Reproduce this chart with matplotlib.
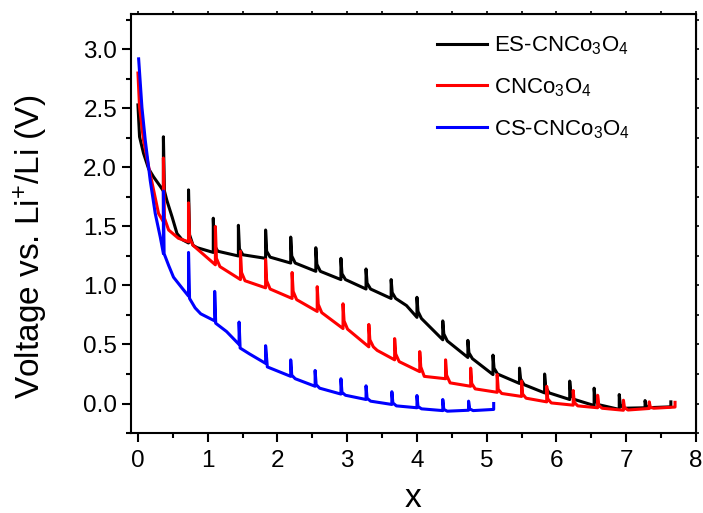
import matplotlib
matplotlib.use("Agg")
import matplotlib.pyplot as plt
from matplotlib.ticker import MultipleLocator, FormatStrFormatter

plt.rcParams["font.family"] = ["Liberation Sans", "DejaVu Sans"]
plt.rcParams["mathtext.fontset"] = "custom"
plt.rcParams["mathtext.rm"] = "Liberation Sans"
plt.rcParams["mathtext.it"] = "Liberation Sans:italic"

# ES-CNCo3O4 (black)
es_x = [0.0, 0.023, 0.08, 0.152, 0.224, 0.32, 0.365, 0.365, 0.38, 0.415, 0.49, 0.56, 0.63,
        0.725, 0.725, 0.74, 0.79, 0.85, 1.08, 1.08, 1.095, 1.145, 1.44, 1.44, 1.455, 1.505,
        1.83, 1.83, 1.845, 1.895, 2.19, 2.19, 2.205, 2.255, 2.55, 2.55, 2.565, 2.615,
        2.91, 2.91, 2.925, 2.975, 3.27, 3.27, 3.285, 3.335, 3.63, 3.63, 3.645, 3.695, 3.85,
        4.0, 4.0, 4.015, 4.065, 4.37, 4.37, 4.385, 4.435, 4.73, 4.73, 4.745, 4.795,
        5.09, 5.09, 5.105, 5.155, 5.47, 5.47, 5.485, 5.535, 5.83, 5.83, 5.845, 5.895,
        6.19, 6.19, 6.205, 6.255, 6.54, 6.54, 6.555, 6.605, 6.90, 6.90, 6.915, 6.965,
        7.27, 7.27, 7.285, 7.335, 7.64, 7.64]
es_v = [2.53, 2.26, 2.12, 1.99, 1.92, 1.84, 1.80, 2.26, 1.80, 1.72, 1.58, 1.44, 1.39,
        1.36, 1.81, 1.43, 1.34, 1.32, 1.28, 1.57, 1.34, 1.29, 1.25, 1.51, 1.31, 1.26,
        1.23, 1.47, 1.29, 1.24, 1.19, 1.41, 1.25, 1.19, 1.12, 1.32, 1.18, 1.12,
        1.05, 1.23, 1.10, 1.05, 0.97, 1.14, 1.02, 0.97, 0.89, 1.05, 0.94, 0.89, 0.83,
        0.73, 0.90, 0.78, 0.72, 0.54, 0.70, 0.59, 0.53, 0.39, 0.535, 0.43, 0.38,
        0.245, 0.41, 0.30, 0.25, 0.17, 0.30, 0.21, 0.16, 0.09, 0.25, 0.14, 0.09,
        0.034, 0.19, 0.08, 0.035, -0.017, 0.13, 0.03, -0.01, -0.05, 0.076, -0.01, -0.04,
        -0.036, 0.025, -0.02, -0.035, -0.028, 0.014]

# CNCo3O4 (red)
cn_x = [0.0, 0.023, 0.08, 0.152, 0.224, 0.295, 0.365, 0.365, 0.38, 0.44, 0.58,
        0.725, 0.725, 0.74, 0.79, 1.11, 1.11, 1.125, 1.175, 1.47, 1.47, 1.485, 1.535,
        1.83, 1.83, 1.845, 1.895, 2.21, 2.21, 2.225, 2.275, 2.57, 2.57, 2.585, 2.635,
        2.94, 2.94, 2.955, 3.005, 3.31, 3.31, 3.325, 3.375, 3.43, 3.68, 3.68, 3.695, 3.745,
        4.04, 4.04, 4.055, 4.105, 4.41, 4.41, 4.425, 4.475, 4.77, 4.77, 4.785, 4.835,
        5.15, 5.15, 5.165, 5.215, 5.50, 5.50, 5.515, 5.565, 5.86, 5.86, 5.875, 5.925,
        6.24, 6.24, 6.255, 6.305, 6.59, 6.59, 6.605, 6.655, 6.96, 6.96, 6.975, 7.025,
        7.33, 7.33, 7.345, 7.395, 7.70, 7.70]
cn_v = [2.80, 2.51, 2.23, 2.01, 1.81, 1.61, 1.54, 2.08, 1.57, 1.47, 1.40,
        1.37, 1.70, 1.40, 1.34, 1.175, 1.50, 1.23, 1.16, 1.05, 1.29, 1.11, 1.04,
        0.98, 1.22, 1.04, 0.97, 0.89, 1.11, 0.95, 0.88, 0.78, 0.99, 0.84, 0.77,
        0.635, 0.845, 0.70, 0.63, 0.48, 0.67, 0.54, 0.48, 0.45, 0.37, 0.55, 0.42, 0.355,
        0.27, 0.44, 0.31, 0.23, 0.21, 0.37, 0.24, 0.175, 0.146, 0.30, 0.17, 0.124,
        0.095, 0.245, 0.12, 0.085, 0.06, 0.19, 0.08, 0.045, 0.014, 0.146, 0.04, 0.005,
        -0.014, 0.11, 0.01, -0.02, -0.036, 0.07, -0.015, -0.04, -0.057, 0.028, -0.035, -0.055,
        -0.042, 0.014, -0.03, -0.04, -0.03, 0.01]

# CS-CNCo3O4 (blue)
cs_x = [0.01, 0.057, 0.105, 0.176, 0.248, 0.32, 0.365, 0.365, 0.375, 0.44, 0.51, 0.63,
        0.725, 0.725, 0.74, 0.82, 0.90, 1.10, 1.10, 1.115, 1.27, 1.45, 1.45, 1.465, 1.60,
        1.83, 1.83, 1.855, 2.19, 2.19, 2.205, 2.255, 2.54, 2.54, 2.555, 2.605,
        2.91, 2.91, 2.925, 2.975, 3.27, 3.27, 3.285, 3.335, 3.64, 3.64, 3.655, 3.705,
        4.00, 4.00, 4.015, 4.065, 4.37, 4.37, 4.385, 4.435, 4.74, 4.74, 4.755, 4.805,
        5.10, 5.10]
cs_v = [2.92, 2.51, 2.23, 1.89, 1.61, 1.41, 1.27, 1.80, 1.27, 1.17, 1.07, 0.98,
        0.91, 1.28, 0.89, 0.81, 0.76, 0.70, 0.95, 0.68, 0.61, 0.50, 0.69, 0.47, 0.42,
        0.34, 0.49, 0.31, 0.23, 0.37, 0.24, 0.21, 0.146, 0.28, 0.16, 0.13,
        0.08, 0.21, 0.095, 0.07, 0.034, 0.15, 0.045, 0.02, -0.008, 0.10, 0.005, -0.02,
        -0.036, 0.068, -0.025, -0.045, -0.06, 0.034, -0.05, -0.065, -0.057, 0.02, -0.045, -0.06,
        -0.05, 0.0]

labels = ["ES-CNCo$_3$O$_4$", "CNCo$_3$O$_4$", "CS-CNCo$_3$O$_4$"]

fig = plt.figure(figsize=(7.03, 5.13), dpi=100)
ax = fig.add_axes([0.1863, 0.1559, 0.8037, 0.8168])

ax.plot(es_x, es_v, color="black", lw=2.2, label=labels[0])
ax.plot(cn_x, cn_v, color="#ff0000", lw=2.2, label=labels[1])
ax.plot(cs_x, cs_v, color="#0000ff", lw=2.2, label=labels[2])

ax.set_xlim(-0.1, 8)
ax.set_ylim(-0.25, 3.3)
ax.xaxis.set_major_locator(MultipleLocator(1))
ax.xaxis.set_minor_locator(MultipleLocator(0.5))
ax.yaxis.set_major_locator(MultipleLocator(0.5))
ax.yaxis.set_minor_locator(MultipleLocator(0.25))
ax.yaxis.set_major_formatter(FormatStrFormatter("%.1f"))

for s in ax.spines.values():
    s.set_linewidth(1.5)
ax.tick_params(which="major", direction="out", length=6.5, width=1.5, labelsize=17.5)
ax.tick_params(which="minor", direction="out", length=3.5, width=1.5)
ax.tick_params(axis="x", which="major", pad=6)

top = ax.secondary_xaxis("top")
top.xaxis.set_major_locator(MultipleLocator(0.5))
top.tick_params(length=2, width=1.2, labeltop=False)
right = ax.secondary_yaxis("right")
right.yaxis.set_major_locator(MultipleLocator(0.25))
right.tick_params(length=2, width=1.2, labelright=False)

ax.set_xlabel("x", fontsize=24, labelpad=8)
ax.set_ylabel("Voltage vs. Li$^{+}$/Li (V)", fontsize=24)
ax.yaxis.set_label_coords(-0.143, 0.444)

ax.legend(loc="upper left", bbox_to_anchor=(0.5416, 0.951), frameon=False,
          fontsize=16, handlelength=2.25, handletextpad=0.3, labelspacing=0.86,
          borderpad=0, borderaxespad=0)

fig.savefig("out.png", dpi=100)
